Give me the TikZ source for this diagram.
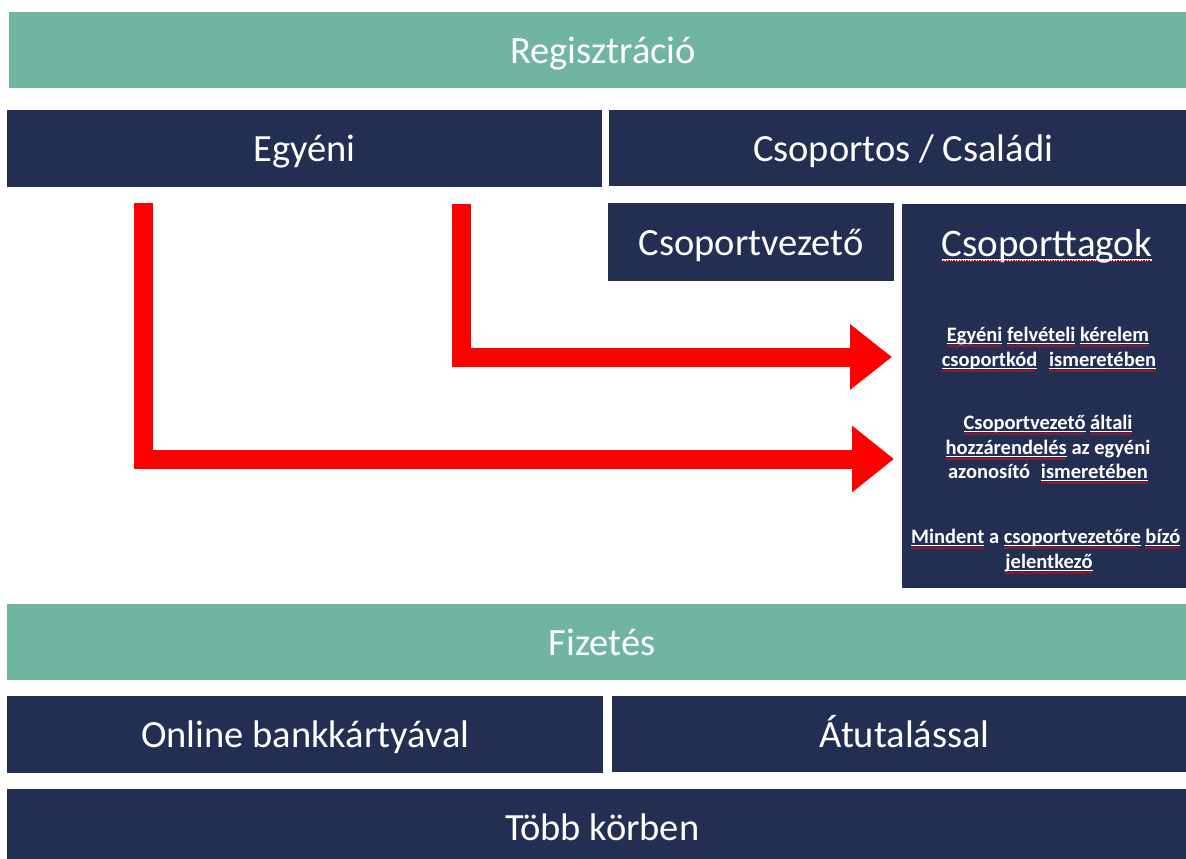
\documentclass[tikz,border=0pt]{standalone}
\usepackage{fontspec}
\setmainfont{Carlito}
\usetikzlibrary{arrows.meta}
\definecolor{grn}{RGB}{111,181,161}
\definecolor{navy}{RGB}{35,47,82}
\newsavebox\uwbox
\newcommand\uw[1]{\sbox\uwbox{#1}%
  \rlap{\textcolor{white}{\rule[-0.13em]{\wd\uwbox}{0.055em}}}%
  \rlap{\textcolor{red}{\leaders\hbox{\rule[-6.2pt]{1.3pt}{0.9pt}\rule[-5.2pt]{1.3pt}{0.9pt}}\hskip\wd\uwbox}}%
  \usebox\uwbox}
\begin{document}
\begin{tikzpicture}[x=1pt,y=-1pt,
  boxbase/.style={inner sep=0pt, anchor=north west, text=white,
    font=\fontsize{38.5}{46}\selectfont, text height=26pt, text depth=0pt},
  gbox/.style={boxbase, fill=grn},
  nbox/.style={boxbase, fill=navy},
  small/.style={inner sep=0pt, anchor=base, text=white,
    font=\bfseries\fontsize{20.5}{25}\selectfont},
  ttl/.style={inner sep=0pt, anchor=base, text=white,
    font=\fontsize{39}{46}\selectfont},
  arr/.style={draw=red, line width=19pt, line join=miter, line cap=butt}
]
\useasboundingbox (0,0) rectangle (1186,859);
\fill[white] (0,0) rectangle (1186,859);

% top section
\node[gbox, minimum width=1188pt, minimum height=76pt] (reg) at (9,12) {Regisztráció};
\node[nbox, minimum width=595pt, minimum height=77pt] (egy) at (7,110) {Egyéni};
\node[nbox, minimum width=588pt, minimum height=76pt] (csc) at (609,110) {Csoportos / Családi};
\node[nbox, minimum width=286pt, minimum height=78pt] (cv) at (608,203) {Csoportvezető};
\node[nbox, minimum width=290pt, minimum height=384pt] (tg) at (902,204) {};

% Csoporttagok content
\node[ttl] (tgt) at (1047,256) {\uw{Csoporttagok}};
\node[small] (l1) at (1048,341) {\uw{Egyéni} \uw{felvételi} \uw{kérelem}};
\node[small] (l2) at (1049,366) {\uw{csoportkód}\hspace{0.35em} \uw{ismeretében}};
\node[small] (l3) at (1048,429) {\uw{Csoportvezető} \uw{általi}};
\node[small] (l4) at (1048,454) {\uw{hozzárendelés} az egyéni};
\node[small] (l5) at (1048,478) {azonosító\hspace{0.3em} \uw{ismeretében}};
\node[small, anchor=base west] (l6) at (911,543) {\uw{Mindent} a \uw{csoportvezetőre} \uw{bízó}};
\node[small] (l7) at (1049,568) {\uw{jelentkező}};

% arrows
\coordinate (a1s) at (461.5,204);
\coordinate (a1c) at (461.5,357);
\coordinate (a2s) at (143,203);
\coordinate (a2c) at (143,459);
\draw[arr, -{Triangle[length=42pt,width=63pt]}] (a1s) -- (a1c) -- ([xshift=-10pt]a1c -| tg.west);
\draw[arr, -{Triangle[length=42pt,width=64pt]}] (a2s) -- (a2c) -- ([xshift=-8pt]a2c -| tg.west);

% payment section
\node[gbox, minimum width=1190pt, minimum height=76pt] (fiz) at (7,604) {Fizetés};
\node[nbox, minimum width=596pt, minimum height=77pt] (onl) at (7,696) {Online bankkártyával};
\node[nbox, minimum width=585pt, minimum height=76pt] (atu) at (612,696) {Átutalással};
\node[nbox, minimum width=1190pt, minimum height=76pt] (tob) at (7,789) {Több körben};
\end{tikzpicture}
\end{document}
